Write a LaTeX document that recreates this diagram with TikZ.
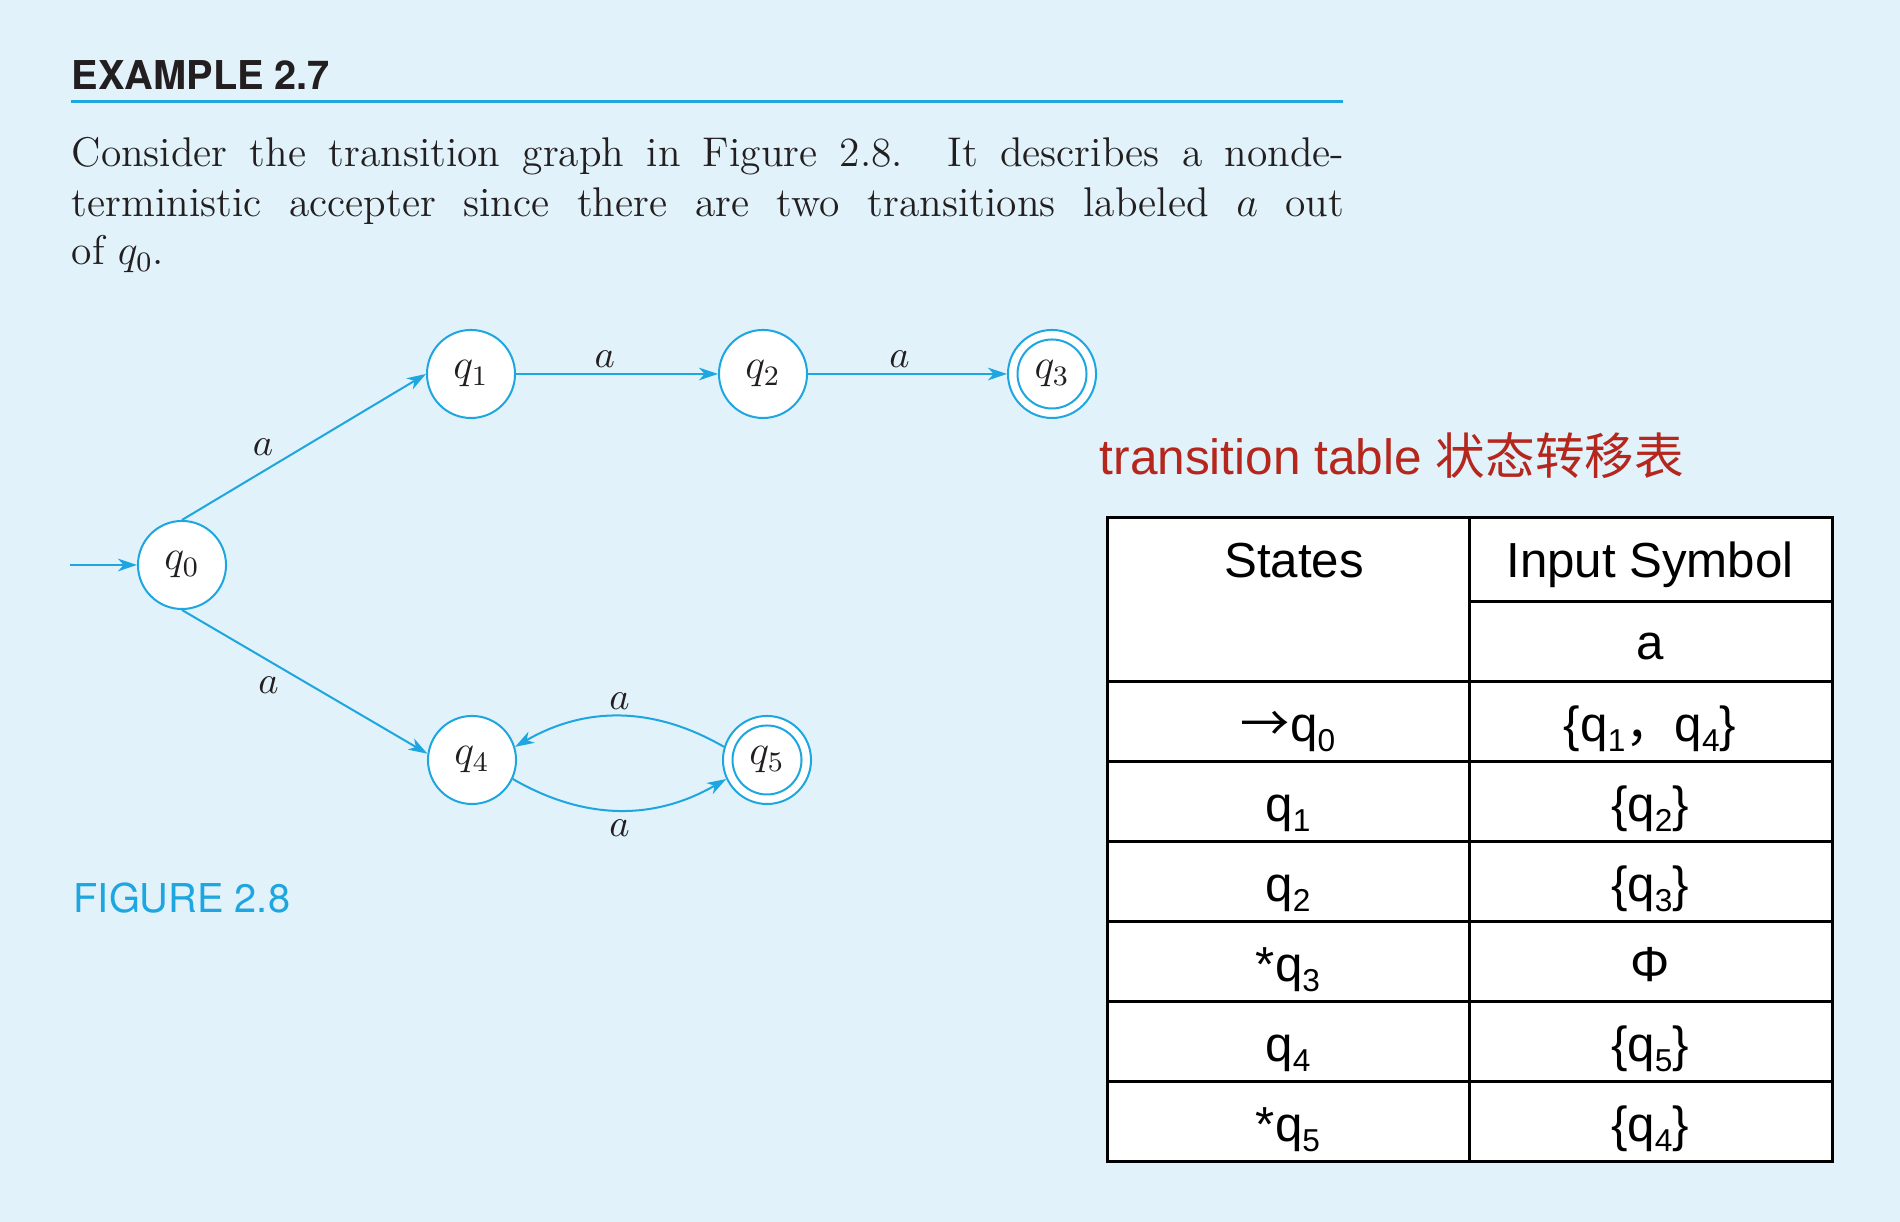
\documentclass[tikz,border=0pt]{standalone}
\usepackage{fontspec}
\usetikzlibrary{arrows.meta}
\newfontfamily\arialf{Liberation Sans}
\newfontfamily\herosf{TeX Gyre Heros}
\newfontfamily\cjkf{Noto Sans CJK SC}
\definecolor{bgc}{HTML}{E1F2FA}
\definecolor{fblue}{HTML}{1DA6E0}
\definecolor{tred}{HTML}{B5261C}
\definecolor{dtext}{HTML}{231F20}
\newcommand\tq[1]{q\raisebox{-2.6pt}{\fontsize{9}{10}\selectfont #1}}
\tikzset{
  st/.style={circle, draw=fblue, fill=white, line width=0.57pt, minimum size=25.04pt, inner sep=0pt, text=dtext, font=\fontsize{11.5}{13}\selectfont},
  ed/.style={draw=fblue, line width=0.57pt, -{Stealth[length=5.4pt,width=3.6pt,inset=1.6pt]}},
  lab/.style={font=\fontsize{10.8}{12}\selectfont, text=dtext, inner sep=1.5pt},
  para/.style={anchor=base west, inner sep=0pt, text=dtext, font=\fontsize{11.8}{14}\selectfont},
  tab/.style={draw=black, line width=0.85pt},
  tt/.style={anchor=base, inner sep=0pt, text=black, font=\arialf\fontsize{14}{16}\selectfont}
}
\begin{document}
\begin{tikzpicture}[x=0.01cm, y=0.01cm]
\fill[bgc] (0,0) rectangle (1900,1222);
\useasboundingbox (0,0) rectangle (1900,1222);

% header
\node[anchor=base west, inner sep=0pt, text=dtext, font={\herosf\bfseries\fontsize{11.3}{13}\selectfont}] (ex) at (71,1132.5) {EXAMPLE 2.7};
\draw[fblue, line width=0.85pt] (71,1120) -- (1343,1120);

% paragraph
\node[para] (l1) at (71,1055) {\makebox[361.9pt][s]{Consider the transition graph in Figure 2.8. It describes a nonde-}};
\node[para] (l2) at (71,1005) {\makebox[361.9pt][s]{terministic accepter since there are two transitions labeled $a$ out}};
\node[para] (l3) at (71,957) {of $q_0$.};

% graph
\node[st] (q0) at (182,657) {$q_0$};
\node[st] (q1) at (471,848) {$q_1$};
\node[st] (q2) at (763,848) {$q_2$};
\node[st] (q3) at (1052,848) {$q_3$};
\node[st] (q4) at (472,462) {$q_4$};
\node[st] (q5) at (767,462) {$q_5$};
\draw[fblue, line width=0.57pt] (q3.center) circle[radius=34.5];
\draw[fblue, line width=0.57pt] (q5.center) circle[radius=34.5];

\coordinate (s0) at (70,657);
\draw[ed] (s0) -- (q0.west);
\draw[ed] (q0.north) -- node[lab, pos=0.4, above left] {$a$} (q1.west);
\draw[ed] (q0.south) -- node[lab, pos=0.42, below left] {$a$} (q4.172);
\draw[ed] (q1) -- node[lab, pos=0.44, above] {$a$} (q2);
\draw[ed] (q2) -- node[lab, pos=0.46, above] {$a$} (q3);
\draw[ed] (q5.163) to[out=150,in=30] node[lab, above] {$a$} (q4.17);
\draw[ed] (q4.-25) to[out=-30,in=-150] node[lab, below=1pt] {$a$} (q5.205);

\node[anchor=base west, inner sep=0pt, text=fblue, font={\herosf\fontsize{11.3}{13}\selectfont}] (fig) at (73,309) {FIGURE 2.8};

% table title
\node[anchor=base west, inner sep=0pt, text=tred, font={\fontsize{14.1}{16}\selectfont}] (title) at (1099,747) {\arialf transition table \cjkf 状态转移表};

% table
\fill[white] (1107,60) rectangle (1832,704);
\draw[tab] (1107,60) rectangle (1832,704);
\draw[tab] (1469,60) -- (1469,704);
\draw[tab] (1469,620) -- (1832,620);
\foreach \yy in {540,460,380,300,220,140} \draw[tab] (1107,\yy) -- (1832,\yy);

\node[tt] (hs) at (1294,644) {States};
\node[tt] (hi) at (1650,644) {Input Symbol};
\node[tt] (ha) at (1650,562) {a};
\node[tt] (r0l) at (1288,480) {{\cjkf →}\tq{0}};
\node[tt] (r0r) at (1650,480) {\{\tq{1}{\cjkf ，}\tq{4}\}};
\node[tt] (r1l) at (1288,400) {\tq{1}};
\node[tt] (r1r) at (1650,400) {\{\tq{2}\}};
\node[tt] (r2l) at (1288,320) {\tq{2}};
\node[tt] (r2r) at (1650,320) {\{\tq{3}\}};
\node[tt] (r3l) at (1288,240) {*\tq{3}};
\node[tt] (r3r) at (1650,240) {Φ};
\node[tt] (r4l) at (1288,160) {\tq{4}};
\node[tt] (r4r) at (1650,160) {\{\tq{5}\}};
\node[tt] (r5l) at (1288,80) {*\tq{5}};
\node[tt] (r5r) at (1650,80) {\{\tq{4}\}};
\end{tikzpicture}
\end{document}
